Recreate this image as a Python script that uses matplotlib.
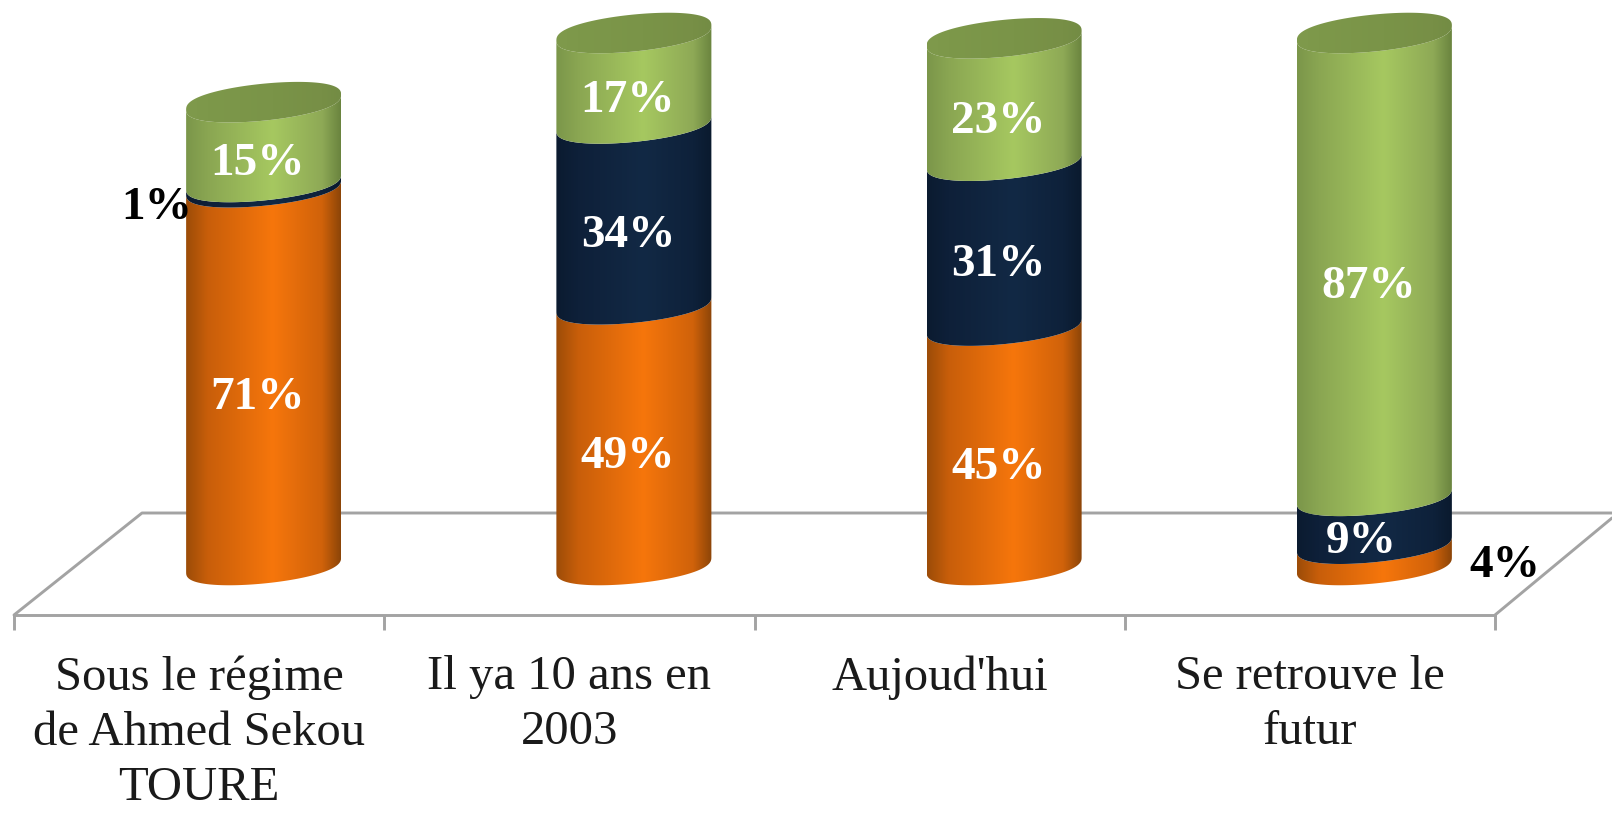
import numpy as np
import matplotlib
matplotlib.use("Agg")
import matplotlib.pyplot as plt
from matplotlib.colors import LinearSegmentedColormap
from matplotlib.patches import Polygon

plt.rcParams['font.family'] = ['Liberation Serif', 'DejaVu Serif']

categories = ["Sous le régime\nde Ahmed Sekou\nTOURE", "Il ya 10 ans en\n2003", "Aujoud'hui", "Se retrouve le\nfutur"]
orange_vals = [71, 49, 45, 4]
navy_vals = [1, 34, 31, 9]
green_vals = [15, 17, 23, 87]

W, H = 1612, 816
# axes box in pixels: bottom edge is the front line of the floor
AX_L, AX_R, AX_B = 14, 1495, 615
PX_X = (AX_R - AX_L) / 4
PX_Y = 5.32
Y_ZERO = 565  # pixel row of the column base centre

def ramp(left, left2, mid, right2, right):
    return LinearSegmentedColormap.from_list("c", [(0, left), (0.14, left2), (0.56, mid), (0.88, right2), (1, right)])

orange_cm = ramp("#9c4c08", "#c85e0a", "#f6760c", "#d0620a", "#8c4508")
navy_cm = ramp("#0b1b30", "#0e2039", "#122945", "#0e213a", "#0a1a2e")
green_cm = ramp("#7b964a", "#8aa652", "#a6c860", "#8ea956", "#6a843f")
top_cm = ramp("#7f9a4c", "#7d984a", "#7a9448", "#778f46", "#738c44")

fig = plt.figure(figsize=(W / 100, H / 100), dpi=100)
ax = fig.add_axes([AX_L / W, (H - AX_B) / H, (AX_R - AX_L) / W, AX_B / H])

half_w = 77.5 / PX_X
ell_b = 18.5 / PX_Y
ell_k = 7.5 / PX_Y
col_shift = 64.5 / PX_X

t_front = np.linspace(np.pi, 2 * np.pi, 80)
t_all = np.linspace(0, 2 * np.pi, 200)

def rim_x(cx, t):
    return cx + half_w * np.cos(t)

def rim_y(v, t):
    # tilted ellipse, ends a little rounder than a true one
    s = np.sin(t)
    return v + ell_k * np.cos(t) + ell_b * np.sign(s) * np.abs(s) ** 0.8

def draw_shaded(cx, verts, cmap, ymin, ymax, z):
    poly = Polygon(verts, closed=True, facecolor="none", edgecolor="none")
    ax.add_patch(poly)
    grad = np.linspace(0, 1, 256).reshape(1, -1)
    im = ax.imshow(grad, cmap=cmap, extent=[cx - half_w, cx + half_w, ymin, ymax],
                   aspect="auto", zorder=z, interpolation="bilinear", vmin=0, vmax=1)
    im.set_clip_path(poly)

for i in range(len(categories)):
    cx = i + col_shift
    base = 0
    for val, cmap in zip([orange_vals[i], navy_vals[i], green_vals[i]], [orange_cm, navy_cm, green_cm]):
        top = base + val
        # front arc of the lower rim, then front arc of the upper rim back again
        xs = np.concatenate([rim_x(cx, t_front), rim_x(cx, t_front[::-1])])
        ys = np.concatenate([rim_y(base, t_front), rim_y(top, t_front[::-1])])
        draw_shaded(cx, np.column_stack([xs, ys]), cmap, base - 6, top + 6, 3 + base / 200)
        base = top
    cap = np.column_stack([rim_x(cx, t_all), rim_y(base, t_all)])
    draw_shaded(cx, cap, top_cm, base - 6, base + 6, 4)

# value labels, a bit left of the middle of each piece
for i in range(len(categories)):
    cx = i + col_shift
    o, n, g = orange_vals[i], navy_vals[i], green_vals[i]
    for val, mid in [(o, o / 2), (n, o + n / 2), (g, o + n + g / 2)]:
        dx, dy, col = -6, -4.2, "white"
        if val == 1:
            dx, dy, col = -107, -4.4, "black"
        elif val == 4:
            dx, dy, col = 130, -2.2, "black"
        elif val == 9:
            dx = -13
        ax.text(cx + dx / PX_X, mid + dy, f"{val}%", color=col, fontsize=34, fontweight="bold",
                ha="center", va="center", zorder=6)

# floor of the 3D plot, same grey as the axis line
grey = "#a3a3a3"
y_front = (Y_ZERO - AX_B) / PX_Y
y_back = (Y_ZERO - 513) / PX_Y
x_px = lambda p: (p - AX_L) / PX_X - 0.5
floor_kw = dict(color=grey, lw=2.1, zorder=1, clip_on=False, solid_capstyle="round")
ax.plot([x_px(14), x_px(142), x_px(1612)], [y_front, y_back, y_back], **floor_kw)
ax.plot([x_px(1495), x_px(1612)], [y_front, (Y_ZERO - 518) / PX_Y], **floor_kw)

ax.set_xlim(-0.5, 3.5)
ax.set_ylim(y_front, Y_ZERO / PX_Y)
for s in ["top", "left", "right"]:
    ax.spines[s].set_visible(False)
ax.spines["bottom"].set_color(grey)
ax.spines["bottom"].set_linewidth(2.1)
ax.patch.set_alpha(0)
ax.set_yticks([])
ax.set_xticks(range(len(categories)))
ax.set_xticklabels(categories, fontsize=35, color="#1a1a1a", linespacing=1.33)
ax.set_xticks(np.arange(-0.5, 4, 1), minor=True)
ax.tick_params(axis="x", which="major", length=0, pad=29)
ax.tick_params(axis="x", which="minor", length=10.5, width=2.1, color=grey)

fig.savefig("out.png", dpi=100, facecolor="white")
plt.close(fig)
